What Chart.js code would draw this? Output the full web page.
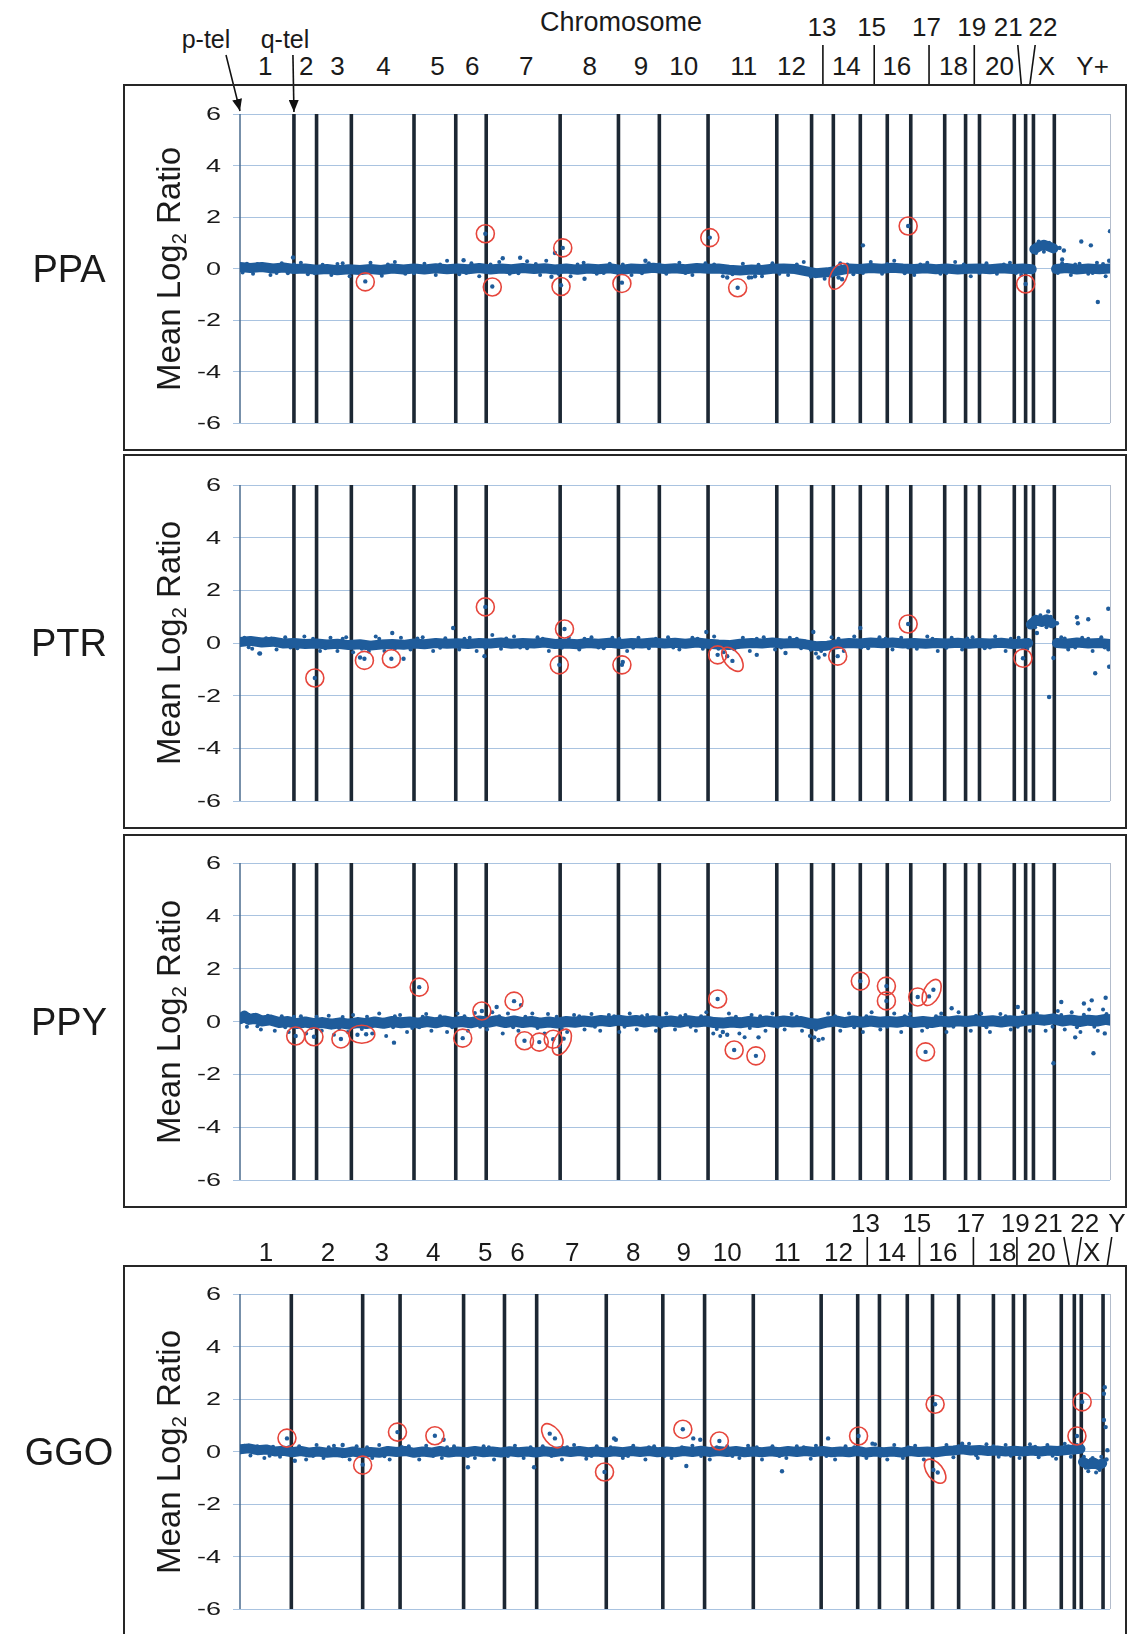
<!DOCTYPE html>
<html>
<head>
<meta charset="utf-8">
<title>Mean log2 ratio along the genome</title>
<script src="https://cdn.jsdelivr.net/npm/chart.js@4.4.1/dist/chart.umd.min.js"></script>
<style>
  html, body { margin: 0; padding: 0; background: #fff; }
  body { position: relative; width: 1132px; height: 1634px; overflow: hidden; font-family: "Liberation Sans", Arial, sans-serif; color: #1a1a1a; }
  canvas { position: absolute; left: 0; }
  .box { position: absolute; left: 123px; width: 1004px; border: 2px solid #262626; box-sizing: border-box; pointer-events: none; }
  .lbl { position: absolute; transform: translate(-50%, -50%); white-space: nowrap; line-height: 1; }
  .tick { position: absolute; transform: translate(-100%, -50%) scaleX(1.5); transform-origin: right center; font-size: 18px; line-height: 1; white-space: nowrap; }
  .ytitle { position: absolute; transform: translate(-50%, -50%) rotate(-90deg); white-space: nowrap; font-size: 33px; line-height: 1; }
  .ytitle sub { font-size: 20px; vertical-align: -6px; line-height: 0; }
  .species { position: absolute; transform: translate(-50%, -50%); font-size: 38px; line-height: 1; }
  svg { position: absolute; left: 0; top: 0; }
</style>
</head>
<body>
<svg id="overlay" width="1132" height="1634"></svg>
<script>
// genome position runs 0..1000 along the x axis
const apeBounds = [62, 88, 128, 200, 248, 283, 368, 435, 482, 538, 617, 657, 682, 713, 744, 771, 810, 834, 850, 890, 903, 912, 936];
const ggoBounds = [59, 141, 184, 257, 304, 341, 421, 486, 534, 590, 668, 710, 735, 767, 796, 826, 866, 889, 902, 944, 959, 967, 992];

const yTicks = [6, 4, 2, 0, -2, -4, -6];

// chromosome labels above the chimp/bonobo/orang panels
const apeLowRow = ['1', '2', '3', '4', '5', '6', '7', '8', '9', '10', '11', '12', '14', '16', '18', '20', 'X', 'Y+'];
const apeLowPos = [29, 76, 112, 165, 227, 267, 329, 402, 461, 510, 579, 634, 697, 755, 820, 873, 927, 980];
const apeTopRow = ['13', '15', '17', '19', '21', '22'];
const apeTopPos = [669, 726, 789, 841, 883, 923];
const apeSeps = [670, 729, 792, 844];
const apeSlashes = [[894, 898], [914, 908]];

// chromosome labels above the gorilla panel
const ggoLowRow = ['1', '2', '3', '4', '5', '6', '7', '8', '9', '10', '11', '12', '14', '16', '18', '20', 'X'];
const ggoLowPos = [30, 101, 163, 222, 282, 319, 382, 452, 510, 560, 629, 688, 749, 808, 876, 921, 979];
const ggoTopRow = ['13', '15', '17', '19', '21', '22', 'Y'];
const ggoTopPos = [719, 778, 840, 891, 929, 971, 1008];
const ggoSeps = [721, 781, 843, 893];
const ggoSlashes = [[947, 953], [967, 962], [1002, 997]];

// PPA
const ppaBand = [[0,0.06],[12,0.02],[25,0.06],[38,0.0],[50,0.04],[62,-0.02],[75,0.0],[88,-0.05],[100,-0.02],[112,-0.07],[125,-0.03],[138,-0.06],[150,-0.02],[162,-0.06],[175,0.0],[188,-0.04],[200,0.0],[212,-0.04],[225,0.01],[238,-0.03],[250,0.0],[262,-0.03],[275,0.02],[288,-0.04],[300,0.0],[312,-0.03],[325,0.02],[338,-0.02],[350,0.01],[362,-0.04],[375,0.0],[388,-0.05],[400,0.0],[412,-0.03],[425,0.01],[438,-0.06],[450,0.0],[462,-0.02],[475,0.03],[488,-0.02],[500,0.01],[512,-0.03],[525,0.02],[538,-0.01],[550,0.0],[562,-0.05],[575,-0.08],[588,-0.04],[600,-0.06],[612,-0.01],[625,0.0],[638,-0.02],[650,-0.1],[662,-0.18],[675,-0.15],[688,-0.08],[700,0.0],[712,-0.02],[725,0.02],[738,-0.01],[750,0.03],[762,0.0],[775,-0.02],[788,0.01],[800,-0.03],[812,0.0],[825,-0.04],[838,-0.01],[850,0.0],[862,-0.03],[875,0.01],[888,-0.02],[900,0.0],[910,-0.03],[911,null],[913,0.75],[918,0.85],[924,0.92],[930,0.85],[935,0.78],[936,null],[938,-0.02],[950,0.02],[962,-0.04],[975,0.0],[988,-0.03],[1000,0.0]];
const ppaFuzz = [[8,0.18],[15,-0.2],[27,0.15],[35,-0.25],[48,0.2],[55,-0.18],[70,0.22],[78,-0.22],[95,0.15],[105,-0.25],[118,0.2],[126,-0.3],[150,0.22],[163,-0.28],[178,0.25],[190,-0.2],[212,0.18],[225,-0.25],[238,0.3],[252,-0.22],[266,0.2],[275,-0.3],[298,0.25],[310,-0.2],[330,0.28],[345,-0.25],[352,0.3],[380,-0.3],[395,0.22],[410,-0.2],[425,0.18],[450,-0.25],[470,0.2],[490,-0.2],[505,0.22],[520,-0.25],[535,0.2],[555,-0.3],[578,0.18],[588,-0.35],[600,-0.3],[612,0.2],[630,-0.25],[648,0.25],[662,-0.3],[672,-0.4],[690,0.2],[705,-0.22],[725,0.25],[738,-0.2],[752,0.3],[775,-0.25],[790,0.22],[805,-0.2],[822,0.25],[840,-0.3],[858,0.2],[870,-0.2],[885,0.22],[898,-0.25],[915,0.6],[918,1.05],[924,0.65],[930,1.0],[945,0.2],[955,-0.25],[965,0.18],[975,-0.2],[985,0.22],[995,-0.3],
  [3,-0.16],[20,0.17],[42,-0.17],[62,0.16],[86,-0.18],[112,0.17],[140,-0.17],[170,0.16],[200,-0.18],[230,0.16],[260,-0.17],[288,0.16],[320,-0.18],[340,0.17],[366,-0.2],[388,0.16],[418,-0.17],[440,0.16],[462,-0.18],[482,0.16],[512,-0.17],[545,0.16],[566,-0.22],[596,0.15],[620,-0.2],[640,0.16],[656,-0.32],[680,-0.28],[698,0.16],[716,-0.17],[744,0.17],[764,-0.18],[782,0.16],[812,-0.17],[832,0.16],[850,-0.17],[878,0.16],[892,-0.17],[940,-0.17],[960,0.16],[980,-0.17],[992,0.17]];
const ppaDots = [[61,0.43],[144,-0.5],[257,0.32],[282,1.35],[290,-0.7],[302,0.4],[322,0.42],[358,-0.32],[362,0.6],[371,0.8],[369,-0.65],[396,-0.4],[439,-0.55],[466,0.3],[540,1.2],[560,-0.35],[572,-0.75],[585,-0.35],[592,-0.3],[684,-0.22],[688,-0.35],[692,-0.42],[716,0.9],[768,1.65],[903,-0.6],[942,0.8],[947,0.7],[945,0.35],[967,1.05],[978,0.9],[1000,1.45],[999,0.3],[986,-1.3]];
const ppaRings = [[144,-0.52,'o'],[282,1.35,'o'],[290,-0.72,'o'],[371,0.8,'o'],[369,-0.7,'o'],[439,-0.58,'o'],[540,1.2,'o'],[572,-0.75,'o'],[688,-0.3,'/'],[768,1.65,'o'],[903,-0.6,'o']];

// PTR
const ptrBand = [[0,0.04],[12,0.08],[25,0.02],[38,0.05],[50,-0.02],[62,0.0],[75,-0.04],[88,-0.02],[100,-0.06],[112,-0.03],[125,-0.08],[138,-0.05],[150,-0.1],[162,-0.06],[175,-0.04],[188,-0.07],[200,-0.02],[212,-0.05],[225,0.0],[238,-0.03],[250,-0.01],[262,-0.04],[275,0.0],[288,-0.02],[300,0.02],[312,-0.03],[325,0.0],[338,-0.02],[350,0.02],[362,-0.04],[375,-0.02],[388,-0.05],[400,0.0],[412,-0.03],[425,0.01],[438,-0.04],[450,0.0],[462,-0.02],[475,0.02],[488,-0.02],[500,0.01],[512,-0.03],[525,0.02],[538,-0.03],[550,-0.06],[562,-0.08],[575,-0.03],[588,0.0],[600,-0.02],[612,0.02],[625,-0.02],[638,0.0],[650,-0.05],[662,-0.12],[675,-0.1],[688,-0.04],[700,0.0],[712,-0.02],[725,0.02],[738,-0.01],[750,0.02],[762,-0.02],[775,0.0],[788,-0.03],[800,0.0],[812,-0.02],[825,0.01],[838,-0.03],[850,0.0],[862,-0.02],[875,0.01],[888,-0.04],[900,-0.02],[906,0.0],[907,null],[909,0.7],[915,0.88],[921,0.8],[927,0.9],[933,0.75],[934,null],[939,0.0],[950,-0.03],[962,0.02],[975,-0.02],[988,0.0],[1000,-0.04]];
const ptrFuzz = [[5,0.2],[14,-0.22],[22,-0.4],[30,0.18],[42,-0.25],[52,0.22],[66,-0.2],[74,0.25],[92,-0.3],[104,0.2],[112,-0.3],[122,0.22],[130,-0.35],[148,-0.32],[156,0.25],[166,-0.3],[185,0.2],[196,-0.25],[210,0.22],[222,-0.3],[236,0.18],[252,-0.25],[264,0.2],[272,-0.3],[290,0.3],[300,-0.22],[315,0.25],[330,-0.2],[342,0.22],[355,-0.3],[378,0.2],[390,-0.25],[404,0.22],[418,-0.2],[428,0.2],[445,-0.3],[458,0.2],[470,-0.2],[492,0.22],[505,-0.25],[520,0.2],[532,-0.22],[545,0.25],[556,-0.35],[578,0.2],[586,-0.3],[602,0.22],[615,-0.25],[632,0.2],[645,-0.2],[662,-0.4],[672,-0.45],[680,0.22],[694,-0.3],[706,0.25],[722,-0.2],[735,0.22],[750,-0.25],[760,0.2],[778,-0.22],[790,0.25],[802,-0.3],[818,0.2],[830,-0.25],[842,0.22],[856,-0.2],[868,0.25],[880,-0.3],[895,0.2],[905,-0.22],[914,0.6],[920,1.05],[927,0.6],[944,0.22],[952,-0.25],[968,0.2],[980,-0.3],[990,0.22],[998,-0.25],
  [10,-0.16],[36,0.17],[58,-0.17],[84,0.16],[98,-0.2],[118,0.16],[140,-0.22],[160,0.16],[178,-0.22],[204,0.17],[230,-0.18],[258,0.16],[282,-0.18],[306,0.17],[322,-0.17],[348,0.16],[370,-0.18],[396,0.16],[412,-0.17],[436,0.16],[452,-0.18],[478,0.16],[498,-0.17],[526,0.16],[550,-0.22],[568,-0.24],[594,0.16],[622,-0.17],[640,0.16],[656,-0.26],[668,-0.3],[688,0.16],[714,-0.17],[742,0.16],[768,-0.17],[796,0.16],[812,-0.18],[836,0.17],[862,-0.17],[886,0.16],[900,-0.18],[912,0.95],[924,0.7],[932,1.0],[948,0.17],[960,-0.17],[975,0.16],[994,-0.17]];
const ptrDots = [[23,-0.4],[86,-1.33],[143,-0.6],[138,-0.55],[174,-0.6],[175,0.38],[188,-0.6],[245,0.57],[281,-0.5],[282,1.37],[373,0.53],[367,-0.83],[439,-0.83],[440,-0.72],[536,0.42],[549,-0.45],[560,-0.5],[566,-0.68],[594,-0.45],[627,-0.38],[659,0.42],[665,-0.55],[687,-0.5],[713,0.57],[768,0.72],[900,-0.58],[929,1.2],[916,0.38],[939,0.75],[962,0.98],[963,0.75],[975,0.9],[998,1.3],[999,-0.9],[983,-1.15],[930,-2.05],[935,-0.57]];
const ptrRings = [[86,-1.33,'o'],[143,-0.66,'o'],[174,-0.6,'o'],[282,1.37,'o'],[373,0.53,'o'],[367,-0.83,'o'],[439,-0.83,'o'],[549,-0.45,'o'],[566,-0.62,'\\'],[687,-0.5,'o'],[768,0.72,'o'],[900,-0.58,'o']];

// PPY
const ppyBand = [[0,0.1],[5,0.2],[10,0.08],[18,0.12],[25,0.02],[35,0.06],[45,-0.04],[55,0.0],[65,-0.08],[75,-0.02],[85,-0.08],[95,-0.04],[105,-0.1],[115,-0.05],[125,-0.1],[135,-0.04],[145,-0.08],[155,-0.02],[165,-0.07],[175,0.0],[185,-0.05],[195,-0.02],[205,-0.06],[215,0.0],[225,-0.05],[235,0.02],[245,-0.04],[255,0.0],[265,-0.05],[275,0.02],[285,-0.03],[295,0.03],[305,-0.04],[315,0.02],[325,-0.04],[335,0.0],[345,-0.06],[355,-0.02],[365,-0.06],[375,0.0],[385,-0.03],[395,0.02],[405,-0.02],[415,0.04],[425,0.0],[435,0.05],[445,0.0],[455,0.04],[465,-0.02],[475,0.03],[485,-0.02],[495,0.02],[505,-0.03],[515,0.03],[525,-0.02],[535,0.02],[545,-0.04],[555,-0.06],[565,-0.02],[575,-0.05],[585,0.0],[595,-0.04],[605,0.02],[615,-0.03],[625,0.02],[635,-0.02],[645,0.0],[655,-0.08],[665,-0.1],[675,-0.02],[685,0.02],[695,-0.04],[705,0.02],[715,-0.03],[725,0.02],[735,-0.03],[745,0.0],[755,-0.03],[765,0.02],[775,-0.04],[785,0.0],[795,-0.04],[805,0.02],[815,-0.02],[825,0.03],[835,0.0],[845,0.04],[855,0.0],[865,0.03],[875,-0.02],[885,0.03],[895,0.0],[905,0.05],[915,0.08],[925,0.05],[935,0.1],[945,0.02],[955,0.06],[965,0.0],[975,0.05],[985,0.02],[995,0.08],[1000,0.05]];
const ppyFuzz = [[4,0.3],[8,-0.2],[16,0.25],[24,-0.3],[32,0.22],[40,-0.35],[48,0.2],[56,-0.4],[70,0.2],[76,-0.45],[94,-0.35],[102,0.22],[108,-0.5],[124,-0.4],[130,0.25],[152,-0.45],[160,0.3],[168,-0.55],[184,0.25],[192,-0.4],[198,-0.25],[214,0.28],[220,-0.35],[230,0.2],[238,-0.4],[250,0.3],[262,-0.35],[270,0.32],[284,-0.3],[290,0.35],[302,-0.45],[308,0.3],[320,-0.35],[336,0.3],[350,-0.45],[354,0.28],[376,-0.4],[384,0.25],[396,-0.3],[404,0.28],[414,-0.35],[424,0.25],[436,-0.4],[448,0.3],[456,-0.3],[468,0.25],[478,-0.35],[490,0.3],[500,-0.3],[512,0.25],[524,-0.35],[536,0.35],[544,-0.45],[552,-0.55],[562,0.3],[574,-0.45],[580,-0.6],[588,0.25],[604,-0.35],[612,0.3],[626,-0.3],[634,0.28],[646,-0.35],[655,-0.55],[670,-0.65],[676,0.3],[690,-0.35],[700,0.3],[716,-0.4],[726,0.35],[736,-0.3],[752,0.3],[760,-0.4],[770,0.28],[784,-0.35],[806,0.3],[812,-0.4],[826,0.35],[840,-0.35],[852,0.3],[862,-0.4],[874,0.28],[886,-0.3],[900,0.35],[908,-0.35],[916,0.3],[926,-0.35],[940,0.4],[948,-0.3],[956,0.35],[966,-0.4],[976,0.45],[986,-0.35],[992,0.45],[999,0.2],
  [12,0.2],[20,-0.18],[36,0.18],[52,-0.22],[62,0.18],[82,-0.25],[88,0.18],[114,-0.26],[118,0.17],[140,-0.28],[146,0.18],[176,-0.22],[178,0.2],[206,-0.22],[210,0.18],[244,-0.22],[258,0.2],[276,-0.2],[298,0.2],[314,-0.22],[328,0.18],[342,-0.25],[364,0.18],[370,-0.28],[390,0.2],[408,-0.2],[430,0.2],[442,-0.2],[462,0.2],[484,-0.2],[506,0.2],[518,-0.2],[530,0.2],[548,-0.28],[570,0.18],[586,-0.25],[598,0.2],[618,-0.2],[640,0.18],[662,-0.3],[684,0.2],[706,-0.22],[720,0.2],[744,-0.2],[764,0.2],[790,-0.22],[800,0.2],[820,-0.2],[846,0.22],[858,-0.22],[880,0.2],[894,-0.2],[912,0.24],[934,-0.2],[944,0.25],[962,-0.22],[970,0.26],[982,-0.2],[996,0.28]];
const ppyDots = [[64,-0.55],[85,-0.58],[116,-0.66],[135,-0.5],[145,-0.48],[177,-0.8],[206,1.3],[256,-0.63],[278,0.4],[295,0.55],[315,0.77],[323,0.62],[327,-0.73],[344,-0.78],[360,-0.67],[367,-0.95],[372,-0.65],[549,0.85],[568,-1.08],[593,-1.3],[596,-0.6],[560,-0.5],[555,-0.4],[665,-0.7],[660,-0.6],[713,1.53],[743,1.34],[743,0.78],[779,0.93],[797,1.2],[792,0.95],[788,-1.15],[818,0.5],[894,0.55],[944,0.74],[970,0.68],[979,0.8],[995,0.9],[981,-1.2],[935,-1.58],[960,-0.6],[994,-0.45]];
const ppyRings = [[64,-0.55,'o'],[85,-0.58,'o'],[116,-0.66,'o'],[140,-0.48,'-'],[206,1.3,'o'],[256,-0.63,'o'],[278,0.4,'o'],[315,0.77,'o'],[327,-0.73,'o'],[344,-0.78,'o'],[360,-0.67,'o'],[370,-0.78,'/'],[549,0.85,'o'],[568,-1.08,'o'],[593,-1.3,'o'],[713,1.53,'o'],[743,1.34,'o'],[743,0.78,'o'],[779,0.93,'o'],[795,1.1,'/'],[788,-1.15,'o']];

// GGO
const ggoBand = [[0,0.08],[10,0.12],[20,0.05],[30,0.08],[40,0.0],[50,0.03],[60,-0.03],[70,0.02],[80,-0.04],[90,0.0],[100,-0.05],[110,-0.02],[120,-0.06],[130,0.0],[140,-0.06],[150,-0.02],[160,-0.05],[170,0.02],[180,-0.02],[190,0.02],[200,-0.05],[210,0.0],[220,-0.04],[230,0.02],[240,-0.04],[250,0.0],[260,-0.03],[270,0.02],[280,-0.03],[290,0.0],[300,-0.04],[310,0.01],[320,-0.03],[330,0.0],[340,-0.04],[350,0.01],[360,-0.03],[370,0.02],[380,-0.02],[390,0.02],[400,-0.03],[410,0.0],[420,-0.04],[430,0.01],[440,-0.03],[450,0.02],[460,-0.02],[470,0.02],[480,-0.03],[490,0.0],[500,-0.03],[510,0.02],[520,-0.02],[530,0.03],[540,-0.02],[550,0.02],[560,-0.02],[570,0.02],[580,-0.03],[590,0.0],[600,-0.03],[610,0.01],[620,-0.03],[630,0.02],[640,-0.02],[650,0.02],[660,-0.02],[670,0.02],[680,-0.03],[690,0.0],[700,-0.03],[710,0.02],[720,-0.04],[730,0.0],[740,-0.03],[750,0.0],[760,-0.04],[770,0.02],[780,-0.02],[790,0.0],[800,-0.03],[810,0.02],[820,0.04],[830,0.08],[840,0.04],[850,0.06],[860,0.02],[870,0.04],[880,0.0],[890,0.03],[900,0.0],[910,0.04],[920,0.0],[930,0.04],[940,0.02],[950,0.06],[960,0.08],[966,0.1],[967,null],[969,-0.4],[975,-0.5],[981,-0.42],[987,-0.52],[991,-0.45]];
const ggoFuzz = [[5,0.22],[12,-0.15],[20,0.2],[28,-0.25],[38,0.18],[46,-0.2],[68,0.2],[76,-0.3],[88,0.25],[96,-0.25],[108,0.22],[126,-0.3],[134,0.2],[152,-0.25],[160,0.25],[172,-0.3],[194,0.2],[206,-0.3],[214,0.22],[232,-0.25],[246,0.2],[270,-0.25],[280,0.2],[292,-0.3],[316,0.22],[326,-0.25],[348,0.2],[370,-0.3],[384,0.25],[398,-0.28],[410,0.2],[440,-0.25],[452,0.22],[466,-0.3],[476,0.2],[496,-0.25],[520,0.22],[540,-0.3],[560,0.2],[574,-0.25],[584,0.22],[600,-0.3],[612,0.2],[628,-0.25],[640,0.2],[656,-0.28],[662,0.22],[684,-0.3],[696,0.2],[720,-0.25],[730,0.28],[744,-0.3],[752,0.25],[762,-0.25],[776,0.22],[786,-0.3],[812,0.25],[820,-0.22],[838,0.3],[848,-0.25],[858,0.28],[872,-0.2],[880,0.25],[896,-0.25],[908,0.28],[918,-0.22],[928,0.25],[938,-0.28],[948,0.3],[955,-0.2],[962,0.25],[970,-0.2],[975,-0.75],[980,-0.25],[984,-0.8],[988,-0.7],[990,-0.2],
  [16,0.16],[34,-0.16],[56,0.16],[84,-0.17],[102,0.16],[118,-0.18],[146,0.16],[166,-0.18],[186,0.17],[222,-0.17],[238,0.16],[262,-0.17],[286,0.16],[308,-0.17],[334,0.16],[358,-0.17],[376,0.16],[404,-0.17],[426,0.16],[446,-0.17],[470,0.16],[488,-0.17],[508,0.16],[530,-0.17],[548,0.16],[566,-0.17],[594,0.16],[620,-0.17],[648,0.16],[674,-0.17],[706,0.16],[736,-0.17],[768,0.16],[796,-0.17],[826,0.2],[846,-0.14],[866,0.2],[886,-0.16],[914,0.18],[934,-0.16],[952,0.2],[972,-0.62],[978,-0.3],[986,-0.6]];
const ggoDots = [[54,0.5],[63,-0.35],[118,0.25],[141,-0.5],[181,0.74],[224,0.6],[234,0.45],[262,-0.6],[338,-0.6],[356,0.68],[362,0.5],[419,-0.78],[430,0.5],[432,0.45],[509,0.85],[513,-0.55],[521,0.5],[529,0.45],[551,0.4],[623,-0.75],[676,0.5],[711,0.59],[727,0.3],[799,1.8],[797,-0.7],[802,-0.8],[830,0.3],[968,1.89],[962,0.59],[994,2.45],[993,2.2],[995,0.93],[993,1.2],[997,0.05],[996,-0.3]];
const ggoRings = [[54,0.51,'o'],[141,-0.52,'o'],[181,0.74,'o'],[224,0.6,'o'],[359,0.6,'\\'],[419,-0.78,'o'],[509,0.85,'o'],[551,0.4,'o'],[711,0.59,'o'],[799,1.8,'o'],[799,-0.75,'\\'],[968,1.89,'o'],[962,0.59,'o']];

const BLUE = '#1f5c9b';
const RED = '#e6463c';
const PLOT_L = 240, PLOT_R = 1110;
const RING = { 'o': [9, 9, 0], '/': [14, 8, -1.1], '\\': [14, 8, 0.9], '-': [13, 9, 0] };

const panels = [
  { name: 'PPA', band: ppaBand, fuzz: ppaFuzz, dots: ppaDots, rings: ppaRings, bounds: apeBounds, boxTop: 84, boxBot: 451, plotTop: 114, plotBot: 423, bandW: 10 },
  { name: 'PTR', band: ptrBand, fuzz: ptrFuzz, dots: ptrDots, rings: ptrRings, bounds: apeBounds, boxTop: 454, boxBot: 829, plotTop: 485, plotBot: 801, bandW: 10 },
  { name: 'PPY', band: ppyBand, fuzz: ppyFuzz, dots: ppyDots, rings: ppyRings, bounds: apeBounds, boxTop: 834, boxBot: 1208, plotTop: 863, plotBot: 1180, bandW: 11 },
  { name: 'GGO', band: ggoBand, fuzz: ggoFuzz, dots: ggoDots, rings: ggoRings, bounds: ggoBounds, boxTop: 1265, boxBot: 1660, plotTop: 1294, plotBot: 1609, bandW: 10 }
];

const toPts = arr => arr.map(p => ({ x: p[0], y: p[1] }));

// chromosome boundaries + plot frame
const chromLines = {
  id: 'chromLines',
  beforeDatasetsDraw(chart, args, opts) {
    const { ctx, chartArea: a, scales: { x } } = chart;
    ctx.save();
    ctx.strokeStyle = '#b3bccb';
    ctx.lineWidth = 1;
    ctx.beginPath(); ctx.moveTo(a.right + 0.5, a.top); ctx.lineTo(a.right + 0.5, a.bottom); ctx.stroke();
    ctx.strokeStyle = '#4a6b8e';
    ctx.lineWidth = 1.5;
    ctx.beginPath(); ctx.moveTo(a.left, a.top); ctx.lineTo(a.left, a.bottom); ctx.stroke();
    ctx.strokeStyle = '#1c2733';
    ctx.lineWidth = 3.6;
    opts.bounds.forEach(b => {
      const px = x.getPixelForValue(b);
      ctx.beginPath(); ctx.moveTo(px, a.top); ctx.lineTo(px, a.bottom); ctx.stroke();
    });
    ctx.restore();
  }
};

// red circles round the called changes
const rings = {
  id: 'rings',
  afterDatasetsDraw(chart, args, opts) {
    const { ctx, scales: { x, y } } = chart;
    ctx.save();
    ctx.strokeStyle = RED;
    ctx.lineWidth = 1.6;
    opts.list.forEach(r => {
      const s = RING[r[2]];
      ctx.beginPath();
      ctx.ellipse(x.getPixelForValue(r[0]), y.getPixelForValue(r[1]), s[0], s[1], s[2], 0, Math.PI * 2);
      ctx.stroke();
    });
    ctx.restore();
  }
};

function addDiv(cls, html, x, y, size) {
  const d = document.createElement('div');
  d.className = cls;
  d.innerHTML = html;
  d.style.left = x + 'px';
  d.style.top = y + 'px';
  if (size) d.style.fontSize = size + 'px';
  document.body.appendChild(d);
  return d;
}

const charts = panels.map(p => {
  const h = Math.min(p.boxBot, 1634) - p.boxTop;
  const cv = document.createElement('canvas');
  cv.width = 1132; cv.height = h;
  cv.style.top = p.boxTop + 'px';
  cv.style.width = '1132px'; cv.style.height = h + 'px';
  document.body.appendChild(cv);

  const box = document.createElement('div');
  box.className = 'box';
  box.style.top = p.boxTop + 'px';
  box.style.height = (p.boxBot - p.boxTop) + 'px';
  document.body.appendChild(box);

  return new Chart(cv, {
    type: 'scatter',
    data: {
      datasets: [
        { data: toPts(p.dots), backgroundColor: BLUE, borderWidth: 0, pointRadius: 2.2 },
        { data: toPts(p.fuzz), backgroundColor: BLUE, borderWidth: 0, pointRadius: 2 },
        { data: toPts(p.band), showLine: true, borderColor: BLUE, borderWidth: p.bandW, pointRadius: 0,
          spanGaps: false, borderJoinStyle: 'round', borderCapStyle: 'round' }
      ]
    },
    options: {
      responsive: false,
      animation: false,
      devicePixelRatio: 1,
      layout: { padding: { left: 0, right: 1132 - PLOT_R, top: p.plotTop - p.boxTop, bottom: h - (p.plotBot - p.boxTop) } },
      plugins: {
        legend: { display: false },
        tooltip: { enabled: false },
        chromLines: { bounds: p.bounds },
        rings: { list: p.rings }
      },
      scales: {
        x: { type: 'linear', min: 0, max: 1000, display: false },
        y: {
          min: -6, max: 6,
          ticks: { stepSize: 2, display: false },
          grid: { color: '#a9c3e0', lineWidth: 1, tickLength: 7, drawTicks: true, tickColor: '#a9c3e0' },
          border: { display: false },
          afterFit: s => { s.width = PLOT_L; }
        }
      }
    },
    plugins: [chromLines, rings]
  });
});

// text round each panel
panels.forEach((p, i) => {
  const ch = charts[i];
  const a = ch.chartArea;
  const midY = p.boxTop + (a.top + a.bottom) / 2;
  addDiv('species', p.name, 69, midY);
  addDiv('ytitle', 'Mean Log<sub>2</sub> Ratio', 168, midY);
  yTicks.forEach(v => {
    addDiv('tick', String(v), 221, p.boxTop + ch.scales.y.getPixelForValue(v));
  });
});

const svg = document.getElementById('overlay');
const NS = 'http://www.w3.org/2000/svg';
function svgEl(tag, attrs) {
  const e = document.createElementNS(NS, tag);
  Object.keys(attrs).forEach(k => e.setAttribute(k, attrs[k]));
  svg.appendChild(e);
  return e;
}
const defs = svgEl('defs', {});
const marker = document.createElementNS(NS, 'marker');
[['id', 'ah'], ['viewBox', '0 0 12 10'], ['refX', '12'], ['refY', '5'], ['markerWidth', '12'], ['markerHeight', '10'], ['markerUnits', 'userSpaceOnUse'], ['orient', 'auto']]
  .forEach(kv => marker.setAttribute(kv[0], kv[1]));
const head = document.createElementNS(NS, 'path');
head.setAttribute('d', 'M0,0 L12,5 L0,10 z');
head.setAttribute('fill', '#111');
marker.appendChild(head);
defs.appendChild(marker);

function chromHeader(ch, p, low, lowPos, top, topPos, seps, slashes, lowY, topY, sepTop) {
  const x = ch.scales.x;
  low.forEach((t, k) => addDiv('lbl', t, x.getPixelForValue(lowPos[k]), lowY, 26));
  top.forEach((t, k) => addDiv('lbl', t, x.getPixelForValue(topPos[k]), topY, 26));
  seps.forEach(s => {
    const px = x.getPixelForValue(s);
    svgEl('line', { x1: px, y1: sepTop, x2: px, y2: p.boxTop, stroke: '#111', 'stroke-width': 1.6 });
  });
  slashes.forEach(s => {
    svgEl('line', { x1: x.getPixelForValue(s[0]), y1: sepTop, x2: x.getPixelForValue(s[1]), y2: p.boxTop, stroke: '#111', 'stroke-width': 1.6 });
  });
}

const c0 = charts[0], p0 = panels[0];
chromHeader(c0, p0, apeLowRow, apeLowPos, apeTopRow, apeTopPos, apeSeps, apeSlashes, 66, 27, 45);
chromHeader(charts[3], panels[3], ggoLowRow, ggoLowPos, ggoTopRow, ggoTopPos, ggoSeps, ggoSlashes, 1252, 1223, 1237);

addDiv('lbl', 'Chromosome', c0.scales.x.getPixelForValue(438), 22, 27);

// telomere arrows
const topY = p0.boxTop + c0.scales.y.getPixelForValue(6);
const pX = c0.scales.x.getPixelForValue(0);
const qX = c0.scales.x.getPixelForValue(apeBounds[0]);
addDiv('lbl', 'p-tel', 206, 39, 25);
addDiv('lbl', 'q-tel', 285, 39, 25);
svgEl('line', { x1: 226, y1: 55, x2: pX, y2: topY - 3, stroke: '#111', 'stroke-width': 1.6, 'marker-end': 'url(#ah)' });
svgEl('line', { x1: qX - 1, y1: 55, x2: qX, y2: topY - 2, stroke: '#111', 'stroke-width': 1.6, 'marker-end': 'url(#ah)' });
</script>
</body>
</html>
